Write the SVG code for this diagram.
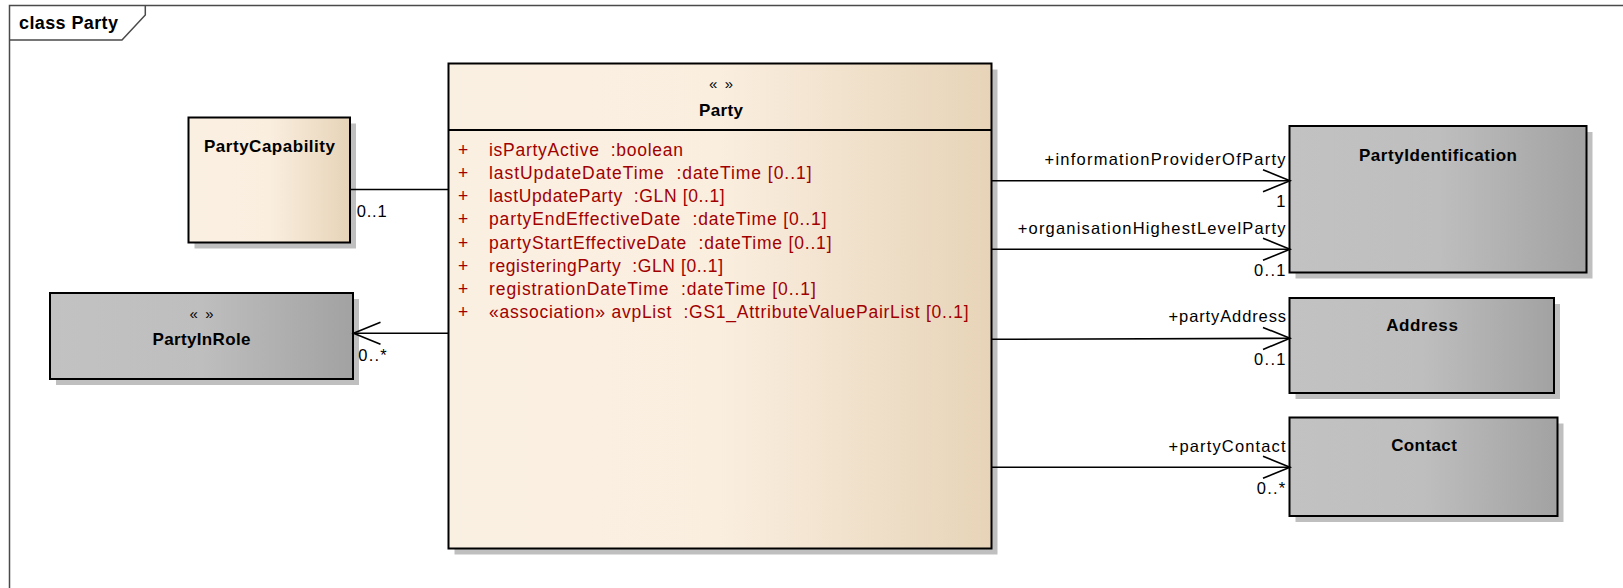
<svg xmlns="http://www.w3.org/2000/svg" width="1623" height="588" viewBox="0 0 1623 588">
<defs>
<linearGradient id="gCream" x1="0" y1="0" x2="1" y2="0">
<stop offset="0" stop-color="#FAF0E2"/>
<stop offset="0.5" stop-color="#FAEEDF"/>
<stop offset="1" stop-color="#E7D4B8"/>
</linearGradient>
<linearGradient id="gGray" x1="0" y1="0" x2="1" y2="0">
<stop offset="0" stop-color="#C2C2C2"/>
<stop offset="0.5" stop-color="#BEBEBE"/>
<stop offset="1" stop-color="#A2A2A2"/>
</linearGradient>
<marker id="open" markerUnits="userSpaceOnUse" markerWidth="40" markerHeight="40" refX="0" refY="0" orient="auto" overflow="visible">
<path d="M -27 -11 L 0 0 L -27 11" fill="none" stroke="#000" stroke-width="1.6"/>
</marker>
<style>
.shadow{fill:#BFBFBF;stroke:none}
.box{stroke:#000;stroke-width:2}
.cream{fill:url(#gCream)}
.gray{fill:url(#gGray)}
.title{font-family:"Liberation Sans",Arial,sans-serif;font-weight:bold;font-size:17px;fill:#000;text-anchor:middle}
.stereo{font-family:"Liberation Sans",Arial,sans-serif;font-size:15px;fill:#000;text-anchor:middle;white-space:pre}
.attr{font-family:"Liberation Sans",Arial,sans-serif;font-size:17.5px;fill:#A00000;white-space:pre}
.lbl{font-family:"Liberation Sans",Arial,sans-serif;font-size:16.5px;fill:#000;white-space:pre}
.conn{stroke:#000;stroke-width:1.6;fill:none}
</style>
</defs>
<rect width="1623" height="588" fill="#fff"/>
<g id="frame">
<rect x="9.5" y="5.5" width="1700" height="700" fill="none" stroke="#4a4a4a" stroke-width="1.5"/>
<path d="M9.5,40 H122 L145.3,15 V5.5" fill="none" stroke="#4a4a4a" stroke-width="1.5"/>
<text x="19" y="29.3" font-family="Liberation Sans, Arial, sans-serif" font-weight="bold" font-size="18" textLength="99" lengthAdjust="spacing">class Party</text>
</g>
<g id="node-PartyCapability">
<rect class="shadow" x="194.5" y="123.5" width="161.5" height="125"/>
<rect class="box cream" x="188.5" y="117.5" width="161.5" height="125"/>
<text class="title" x="269.5" y="151.7" textLength="131" lengthAdjust="spacing">PartyCapability</text>
</g>
<g id="node-Party">
<rect class="shadow" x="454.5" y="69.5" width="543" height="485"/>
<rect class="box cream" x="448.5" y="63.5" width="543" height="485"/>
<line x1="448.5" y1="130" x2="991.5" y2="130" stroke="#000" stroke-width="2"/>
<text class="stereo" x="721" y="89.3" textLength="24" lengthAdjust="spacing" xml:space="preserve">«  »</text>
<text class="title" x="721" y="116" textLength="44" lengthAdjust="spacing">Party</text>
<g class="attr">
<text x="458" y="155.7">+</text><text x="489" y="155.7" textLength="194" lengthAdjust="spacing" xml:space="preserve">isPartyActive  :boolean</text>
<text x="458" y="178.9">+</text><text x="489" y="178.9" textLength="322.5" lengthAdjust="spacing" xml:space="preserve">lastUpdateDateTime  :dateTime [0..1]</text>
<text x="458" y="202.1">+</text><text x="489" y="202.1" textLength="235.7" lengthAdjust="spacing" xml:space="preserve">lastUpdateParty  :GLN [0..1]</text>
<text x="458" y="225.3">+</text><text x="489" y="225.3" textLength="337.5" lengthAdjust="spacing" xml:space="preserve">partyEndEffectiveDate  :dateTime [0..1]</text>
<text x="458" y="248.6">+</text><text x="489" y="248.6" textLength="342.5" lengthAdjust="spacing" xml:space="preserve">partyStartEffectiveDate  :dateTime [0..1]</text>
<text x="458" y="271.8">+</text><text x="489" y="271.8" textLength="234" lengthAdjust="spacing" xml:space="preserve">registeringParty  :GLN [0..1]</text>
<text x="458" y="295">+</text><text x="489" y="295" textLength="326.8" lengthAdjust="spacing" xml:space="preserve">registrationDateTime  :dateTime [0..1]</text>
<text x="458" y="318.2">+</text><text x="489" y="318.2" textLength="479.7" lengthAdjust="spacing" xml:space="preserve">«association» avpList  :GS1_AttributeValuePairList [0..1]</text>
</g>
</g>
<g id="node-PartyInRole">
<rect class="shadow" x="56" y="299" width="303" height="86"/>
<rect class="box gray" x="50" y="293" width="303" height="86"/>
<text class="stereo" x="201.5" y="319.3" textLength="24" lengthAdjust="spacing" xml:space="preserve">«  »</text>
<text class="title" x="201.5" y="345" textLength="98" lengthAdjust="spacing">PartyInRole</text>
</g>
<g id="node-PartyIdentification">
<rect class="shadow" x="1295.5" y="132" width="297" height="146.5"/>
<rect class="box gray" x="1289.5" y="126" width="297" height="146.5"/>
<text class="title" x="1438" y="160.5" textLength="158" lengthAdjust="spacing">PartyIdentification</text>
</g>
<g id="node-Address">
<rect class="shadow" x="1295.5" y="304" width="264.5" height="95"/>
<rect class="box gray" x="1289.5" y="298" width="264.5" height="95"/>
<text class="title" x="1422" y="331" textLength="71.7" lengthAdjust="spacing">Address</text>
</g>
<g id="node-Contact">
<rect class="shadow" x="1295.5" y="423.5" width="268" height="98.5"/>
<rect class="box gray" x="1289.5" y="417.5" width="268" height="98.5"/>
<text class="title" x="1424" y="450.7" textLength="65.6" lengthAdjust="spacing">Contact</text>
</g>
<g id="connectors">
<line class="conn" x1="350" y1="189.5" x2="448.5" y2="189.5"/>
<text class="lbl" x="356.7" y="216.7" textLength="30" lengthAdjust="spacing">0..1</text>
<line class="conn" x1="448.5" y1="333.3" x2="353.5" y2="333.3" marker-end="url(#open)"/>
<text class="lbl" x="358.3" y="360.7" textLength="28.4" lengthAdjust="spacing">0..*</text>
<line class="conn" x1="991.5" y1="180.7" x2="1290" y2="180.7" marker-end="url(#open)"/>
<text class="lbl" x="1044.5" y="165" textLength="241" lengthAdjust="spacing">+informationProviderOfParty</text>
<text class="lbl" x="1285.5" y="207.3" text-anchor="end">1</text>
<line class="conn" x1="991.5" y1="249.3" x2="1290" y2="249.3" marker-end="url(#open)"/>
<text class="lbl" x="1017.7" y="234" textLength="267.8" lengthAdjust="spacing">+organisationHighestLevelParty</text>
<text class="lbl" x="1254" y="275.7" textLength="31.5" lengthAdjust="spacing">0..1</text>
<line class="conn" x1="991.5" y1="339.3" x2="1290" y2="338.3" marker-end="url(#open)"/>
<text class="lbl" x="1168.6" y="321.7" textLength="117.4" lengthAdjust="spacing">+partyAddress</text>
<text class="lbl" x="1254" y="365" textLength="31.5" lengthAdjust="spacing">0..1</text>
<line class="conn" x1="991.5" y1="467.3" x2="1290" y2="467.3" marker-end="url(#open)"/>
<text class="lbl" x="1168.6" y="451.7" textLength="117" lengthAdjust="spacing">+partyContact</text>
<text class="lbl" x="1256.8" y="494" textLength="28.4" lengthAdjust="spacing">0..*</text>
</g>
</svg>
